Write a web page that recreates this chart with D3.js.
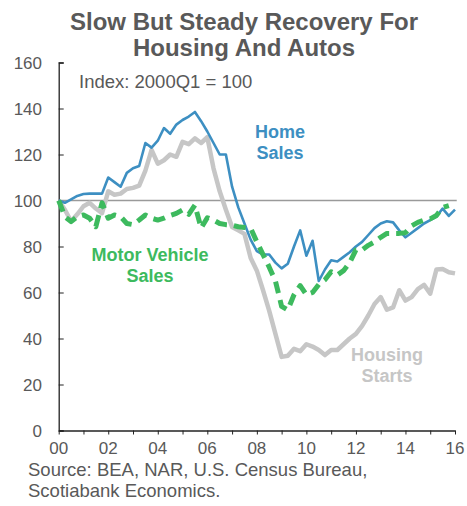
<!DOCTYPE html>
<html>
<head>
<meta charset="utf-8">
<script src="https://cdn.jsdelivr.net/npm/d3@7"></script>
<style>
  body { margin: 0; background: #fff; }
  text { font-family: "Liberation Sans", Arial, sans-serif; }
</style>
</head>
<body>
<svg id="chart" width="467" height="506"></svg>
<script>
// quarterly index, 2000Q1 = 100
const homeSales = [100, 99, 100.5, 102, 102.8, 103, 103, 103, 110, 108, 106, 112, 114, 115, 125, 123,
  126, 131.5, 129, 133, 135, 136.5, 138.5, 134.5, 130, 125, 120, 120, 106, 97, 90, 83,
  78, 76.5, 76.5, 73, 70.5, 72.5, 80, 87, 76, 82.5, 65, 70, 74, 73.5, 75.5, 77.5,
  80, 82, 85, 88, 90, 91, 90.5, 87, 84, 86, 88, 90, 91.5, 93, 96.5, 93.3, 96];
const housingStarts = [100, 96, 91, 94, 97.5, 99, 96.5, 94.5, 104, 102.5, 103, 105, 105.5, 106.5, 113, 122,
  116, 117.5, 120, 119, 125.5, 124.5, 127, 125, 127.5, 114, 104, 96, 88.5, 87, 85.5, 75,
  69.5, 61, 52, 42, 32, 32.5, 35.5, 34.5, 37.5, 36.5, 35, 32.8, 35, 35, 37.5, 40,
  42, 45.5, 50, 55, 58, 52.5, 53.5, 61, 56.5, 58, 61.5, 63.3, 59.5, 70, 70.2, 68.8, 68.3];
const motorVehicleSales = [100, 93, 90.8, 93, 93.7, 92.3, 88.6, 99, 92.3, 93.7, 93, 90, 89.5, 91.5, 93.7, 92.3,
  91.5, 92.3, 93.5, 94.4, 95.9, 94, 98, 88, 92.5, 91.5, 90, 89.5, 89.3, 88.6, 88.3, 88,
  82, 76.5, 71, 65, 54, 52.4, 59, 63, 59, 60, 63.5, 65.5, 69, 67.6, 69.5, 73,
  78.5, 78.5, 80.5, 82, 84, 85.7, 85.7, 85.7, 86, 89, 90.5, 91.5, 92, 93.5, 97, 97.8];
const startYear = 2000;
const yTicks = [0, 20, 40, 60, 80, 100, 120, 140, 160];
const xTicks = [2000, 2002, 2004, 2006, 2008, 2010, 2012, 2014, 2016];

const svg = d3.select("#chart");
const textCol = "#595959";

const x = d3.scaleLinear().domain([2000, 2016]).range([58.7, 455]);
const y = d3.scaleLinear().domain([0, 160]).range([430.5, 62.5]);

// title
svg.append("text").attr("x", 244).attr("y", 30).attr("text-anchor", "middle")
  .attr("font-size", 24).attr("font-weight", "bold").attr("fill", textCol)
  .text("Slow But Steady Recovery For");
svg.append("text").attr("x", 244).attr("y", 56).attr("text-anchor", "middle")
  .attr("font-size", 24).attr("font-weight", "bold").attr("fill", textCol)
  .text("Housing And Autos");

// y axis
const yAxis = svg.append("g").attr("transform", `translate(${x(2000)},0)`)
  .call(d3.axisRight(y).tickValues(yTicks).tickSize(5).tickFormat(""));
yAxis.select(".domain").attr("stroke", "#222").attr("stroke-width", 1.3);
yAxis.selectAll(".tick line").attr("stroke", "#222");
yTicks.forEach(t => {
  svg.append("text").attr("x", 42).attr("y", y(t) + 6).attr("text-anchor", "end")
    .attr("font-size", 17).attr("fill", textCol).text(t);
});

// x axis
const xAxis = svg.append("g").attr("transform", `translate(0,${y(0)})`)
  .call(d3.axisBottom(x).tickValues(d3.range(2000, 2017)).tickSize(4).tickSizeOuter(0).tickFormat(""));
xAxis.select(".domain").attr("stroke", "#222").attr("stroke-width", 1.3);
xAxis.selectAll(".tick line").attr("stroke", "#222");
xTicks.forEach(t => {
  svg.append("text").attr("x", x(t)).attr("y", 454).attr("text-anchor", "middle")
    .attr("font-size", 17).attr("fill", textCol).text(d3.format("02")(t % 100));
});

// 100 reference line
svg.append("line").attr("x1", x(2000)).attr("x2", x(2016.07))
  .attr("y1", y(100)).attr("y2", y(100)).attr("stroke", "#9a9a9a").attr("stroke-width", 1.3);

svg.append("text").attr("x", 79).attr("y", 88).attr("font-size", 18.5).attr("fill", textCol)
  .text("Index: 2000Q1 = 100");

const line = d3.line().x((d, i) => x(startYear + i / 4)).y(d => y(d));

svg.append("path").datum(housingStarts).attr("d", line)
  .attr("fill", "none").attr("stroke", "#c6c6c6").attr("stroke-width", 4.5).attr("stroke-linejoin", "round");
svg.append("path").datum(homeSales).attr("d", line)
  .attr("fill", "none").attr("stroke", "#3d8fc2").attr("stroke-width", 2.6).attr("stroke-linejoin", "round");
svg.append("path").datum(motorVehicleSales).attr("d", line)
  .attr("fill", "none").attr("stroke", "#3dba5e").attr("stroke-width", 5)
  .attr("stroke-dasharray", "12,7").attr("stroke-linejoin", "round");

// series labels
const labels = [
  { lines: ["Home", "Sales"], x: 280, y: 138, color: "#3d8fc2" },
  { lines: ["Motor Vehicle", "Sales"], x: 150, y: 261, color: "#3dba5e" },
  { lines: ["Housing", "Starts"], x: 387, y: 361, color: "#c6c6c6" }
];
labels.forEach(l => {
  l.lines.forEach((s, i) => {
    svg.append("text").attr("x", l.x).attr("y", l.y + i * 21).attr("text-anchor", "middle")
      .attr("font-size", 18).attr("font-weight", "bold").attr("fill", l.color).text(s);
  });
});

// source
svg.append("text").attr("x", 28).attr("y", 476).attr("font-size", 18.5).attr("fill", textCol)
  .text("Source: BEA, NAR, U.S. Census Bureau,");
svg.append("text").attr("x", 28).attr("y", 497).attr("font-size", 18.5).attr("fill", textCol)
  .text("Scotiabank Economics.");
</script>
</body>
</html>
